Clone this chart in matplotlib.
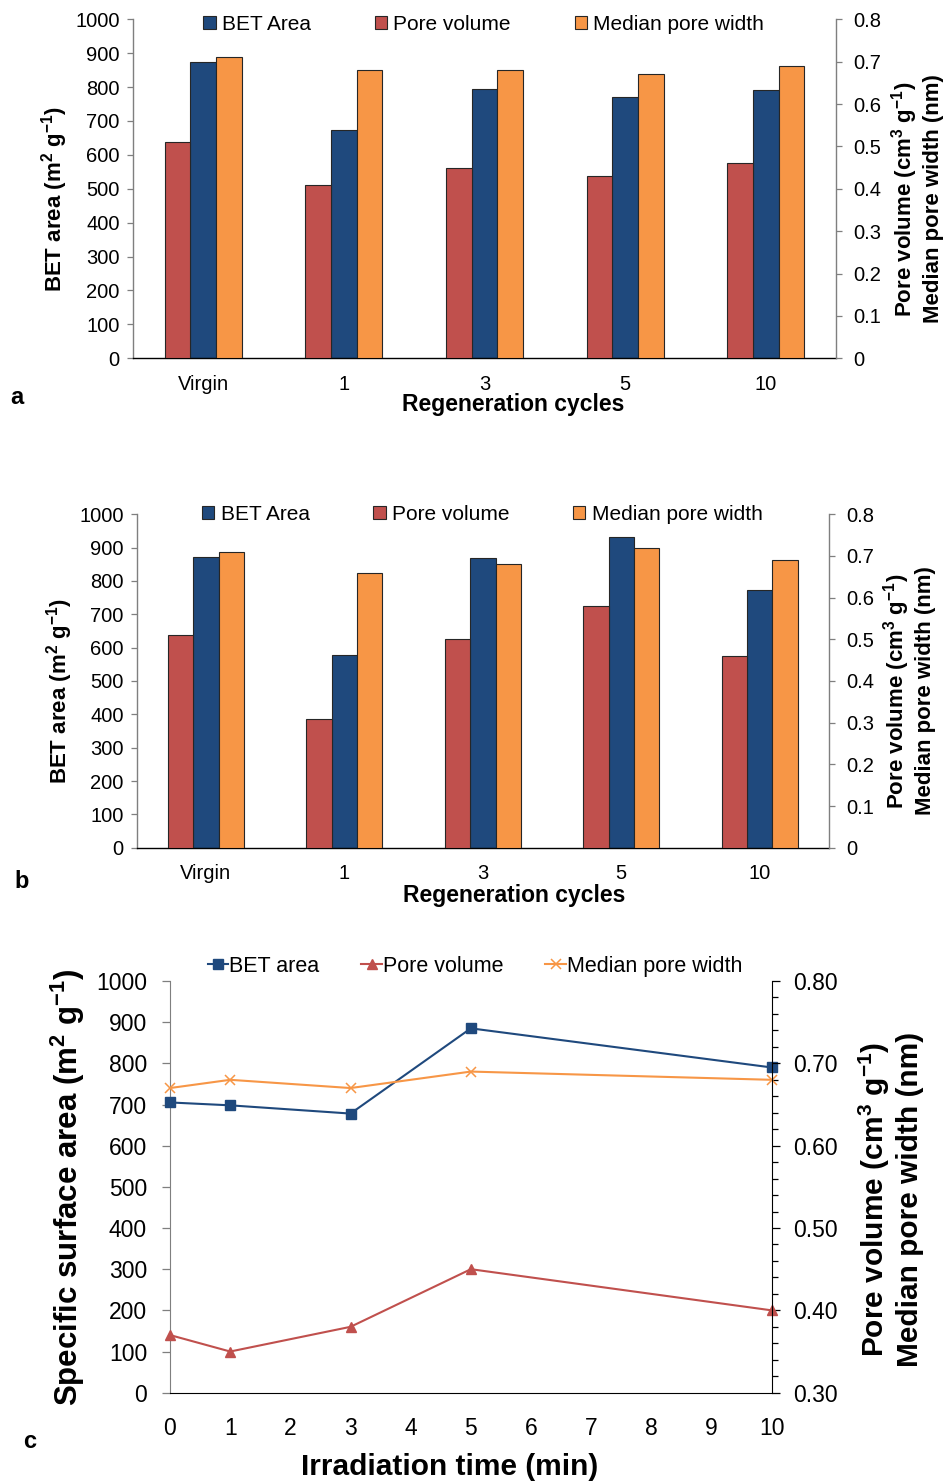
import numpy as np
import matplotlib
matplotlib.use('Agg')
import matplotlib.pyplot as plt
from matplotlib.patches import Patch
from matplotlib.ticker import MultipleLocator, FuncFormatter

plt.rcParams['font.family'] = ['Liberation Sans', 'DejaVu Sans']
plt.rcParams['mathtext.fontset'] = 'custom'
plt.rcParams['mathtext.rm'] = 'Liberation Sans'
plt.rcParams['mathtext.bf'] = 'Liberation Sans:bold'
plt.rcParams['mathtext.it'] = 'Liberation Sans:italic'

# Regeneration experiments (a, b)
cycles = ['Virgin', '1', '3', '5', '10']
a_bet = [873, 673, 795, 772, 791]
a_pore_vol = [0.51, 0.41, 0.45, 0.43, 0.46]
a_median_width = [0.71, 0.68, 0.68, 0.67, 0.69]
b_bet = [871, 578, 868, 933, 773]
b_pore_vol = [0.51, 0.31, 0.50, 0.58, 0.46]
b_median_width = [0.71, 0.66, 0.68, 0.72, 0.69]

# Irradiation time series (c)
time_min = [0, 1, 3, 5, 10]
c_bet = [705, 698, 678, 885, 790]
c_pore_vol = [0.37, 0.35, 0.38, 0.45, 0.40]
c_median_width = [0.67, 0.68, 0.67, 0.69, 0.68]

RED = '#C0504D'
BLUE = '#1F497D'
ORANGE = '#F79646'

W, H = 944, 1481
fig = plt.figure(figsize=(W / 100, H / 100), dpi=100)


def px_axes(left, top, right, bottom):
    return fig.add_axes([left / W, 1 - bottom / H, (right - left) / W, (bottom - top) / H])


bet_label = r'BET area (m$^\mathbf{2}$ g$^\mathbf{-1}$)'
right_label = ('Pore volume (cm$^\\mathbf{3}$ g$^\\mathbf{-1}$)\n'
               'Median pore width (nm)')


def bar_panel(box, bet, pore_vol, median_width, letter, letter_xy, legend_dy, xlabel_xy):
    ax = px_axes(*box)
    ax2 = ax.twinx()
    x = np.arange(len(cycles))
    w = 0.183
    ec = dict(edgecolor='#262626', linewidth=0.8)
    ax2.bar(x - w, pore_vol, w, color=RED, **ec)
    ax.bar(x, bet, w, color=BLUE, **ec)
    ax2.bar(x + w, median_width, w, color=ORANGE, **ec)

    ax.set_xlim(-0.5, len(cycles) - 0.5)
    ax.set_ylim(0, 1000)
    ax2.set_ylim(0, 0.8)
    ax.set_xticks(x)
    ax.set_xticklabels(cycles)
    ax.yaxis.set_major_locator(MultipleLocator(100))
    ax2.yaxis.set_major_locator(MultipleLocator(0.1))
    ax2.yaxis.set_major_formatter(FuncFormatter(lambda v, p: '0' if abs(v) < 1e-9 else f'{v:.1f}'))

    ax.tick_params(axis='x', length=0, pad=12, labelsize=14.5)
    ax.tick_params(axis='y', length=4.5, width=0.9, pad=5, labelsize=14.5, color='#7f7f7f')
    ax2.tick_params(axis='y', length=4.5, width=0.9, pad=8, labelsize=14.5, color='#7f7f7f')

    for a in (ax, ax2):
        a.spines['top'].set_visible(False)
    ax.spines['right'].set_visible(False)
    ax2.spines['left'].set_visible(False)
    ax2.spines['bottom'].set_visible(False)
    ax.spines['left'].set_color('#7f7f7f')
    ax2.spines['right'].set_color('#7f7f7f')
    ax.spines['bottom'].set_color('black')
    for s in ('left', 'bottom'):
        ax.spines[s].set_linewidth(1.0)
    ax2.spines['right'].set_linewidth(1.0)

    ax.set_xlabel('Regeneration cycles', fontsize=16.5, fontweight='bold')
    ax.xaxis.label.set_verticalalignment('center')
    ax.xaxis.set_label_coords(*xlabel_xy)
    ax.set_ylabel(bet_label, fontsize=16, fontweight='bold')
    ax.yaxis.label.set_verticalalignment('center')
    ax.yaxis.set_label_coords(-0.112, 0.47)
    ax2.set_ylabel(right_label, fontsize=16, fontweight='bold', multialignment='center')
    ax2.yaxis.label.set_verticalalignment('center')
    ax2.yaxis.set_label_coords(1.115, 0.47)

    handles = [Patch(facecolor=BLUE, edgecolor='#262626', linewidth=0.8),
               Patch(facecolor=RED, edgecolor='#262626', linewidth=0.8),
               Patch(facecolor=ORANGE, edgecolor='#262626', linewidth=0.8)]
    ax.legend(handles, ['BET Area', 'Pore volume', 'Median pore width'],
              loc='center', bbox_to_anchor=(0.499, 1 + legend_dy), ncol=3, frameon=False,
              fontsize=15, handlelength=0.6, handleheight=0.6, handletextpad=0.3,
              columnspacing=3.05, borderpad=0, borderaxespad=0)
    fig.text(letter_xy[0] / W, 1 - letter_xy[1] / H, letter, fontsize=17,
             fontweight='bold', ha='center', va='center')
    return ax, ax2


bar_panel((133, 19.3, 836, 358.3), a_bet, a_pore_vol, a_median_width, 'a', (17, 397),
          -0.015, (0.5405, -0.136))
bar_panel((136.7, 514.3, 829, 847.7), b_bet, b_pore_vol, b_median_width, 'b', (22, 882),
          0.0, (0.545, -0.142))

# Panel c: line chart with twin axes
ax = px_axes(170, 981, 771.7, 1392.7)
ax2 = ax.twinx()
l1, = ax.plot(time_min, c_bet, color=BLUE, lw=1.5, marker='s', ms=7, label='BET area',
              clip_on=False, zorder=3)
l2, = ax2.plot(time_min, c_pore_vol, color=RED, lw=1.5, marker='^', ms=7.5, label='Pore volume',
               clip_on=False)
l3, = ax2.plot(time_min, c_median_width, color=ORANGE, lw=1.5, marker='x', ms=7, mew=1.1,
               label='Median pore width', clip_on=False)
ax.set_xlim(0, 10)
ax.set_ylim(0, 1000)
ax2.set_ylim(0.3, 0.8)
ax.xaxis.set_major_locator(MultipleLocator(1))
ax.yaxis.set_major_locator(MultipleLocator(100))
ax2.yaxis.set_major_locator(MultipleLocator(0.1))
ax2.yaxis.set_minor_locator(MultipleLocator(0.02))
ax2.yaxis.set_major_formatter(FuncFormatter(lambda v, p: f'{v:.2f}'))
ax.tick_params(axis='x', length=0, pad=17.5, labelsize=16.5)
ax.tick_params(axis='y', length=5.5, width=0.9, pad=11, labelsize=16.5, color='#7f7f7f')
ax2.tick_params(axis='y', which='major', length=5.5, width=0.9, pad=10, labelsize=16.5)
ax2.tick_params(axis='y', which='minor', length=4, width=0.9)
for a in (ax, ax2):
    a.spines['top'].set_visible(False)
ax.spines['right'].set_visible(False)
ax2.spines['left'].set_visible(False)
ax2.spines['bottom'].set_visible(False)
ax.spines['left'].set_color('#7f7f7f')
ax.spines['bottom'].set_color('black')

ax.set_xlabel('Irradiation time (min)', fontsize=21.5, fontweight='bold')
ax.xaxis.label.set_verticalalignment('center')
ax.xaxis.set_label_coords(0.465, -0.18)
ax.set_ylabel(r'Specific surface area (m$^\mathbf{2}$ g$^\mathbf{-1}$)', fontsize=22.5, fontweight='bold')
ax.yaxis.label.set_verticalalignment('center')
ax.yaxis.set_label_coords(-0.169, 0.5)
ax2.set_ylabel(right_label, fontsize=21.5, fontweight='bold', multialignment='center')
ax2.yaxis.label.set_verticalalignment('center')
ax2.yaxis.set_label_coords(1.197, 0.47)
ax.legend([l1, l2, l3], ['BET area', 'Pore volume', 'Median pore width'],
          loc='center', bbox_to_anchor=(0.507, 1.036), ncol=3, frameon=False,
          fontsize=15.5, handlelength=0.95, handletextpad=0.05, columnspacing=1.95,
          borderpad=0, borderaxespad=0)
fig.text(30 / W, 1 - 1441 / H, 'c', fontsize=17, fontweight='bold', ha='center', va='center')

fig.savefig('out.png', dpi=100)
